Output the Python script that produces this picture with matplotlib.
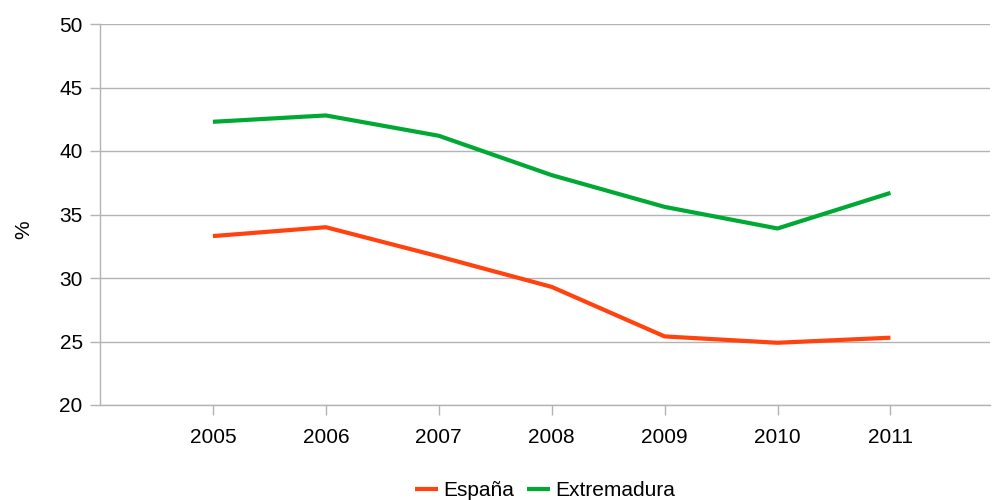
import matplotlib
matplotlib.use("Agg")
import matplotlib.pyplot as plt

plt.rcParams["font.family"] = ["Liberation Sans", "DejaVu Sans"]

years = [2005, 2006, 2007, 2008, 2009, 2010, 2011]
espana = [33.3, 34.0, 31.7, 29.3, 25.4, 24.9, 25.3]
extremadura = [42.3, 42.8, 41.2, 38.1, 35.6, 33.9, 36.7]
y_ticks = [20, 25, 30, 35, 40, 45, 50]

fig = plt.figure(figsize=(9.92, 5), dpi=100)
ax = fig.add_axes([0.1008, 0.19, 0.897, 0.762])

ax.plot(years, espana, color="#ff420e", linewidth=3, label="España", solid_capstyle="butt")
ax.plot(years, extremadura, color="#00a933", linewidth=3, label="Extremadura", solid_capstyle="butt")

ax.set_xlim(2004, 2011.88)
ax.set_ylim(20, 50)
ax.set_yticks(y_ticks)
ax.set_xticks(years)
ax.set_xticklabels([str(y) for y in years])

ax.grid(axis="y", color="#b3b3b3", linewidth=1)
ax.set_axisbelow(True)
for side in ["top", "right"]:
    ax.spines[side].set_visible(False)
for side in ["left", "bottom"]:
    ax.spines[side].set_color("#b3b3b3")
    ax.spines[side].set_linewidth(1)

ax.tick_params(axis="both", colors="#b3b3b3", labelcolor="black", labelsize=15, length=7.5, width=1)
ax.tick_params(axis="x", pad=9)
ax.tick_params(axis="y", pad=5)
ax.set_ylabel("%", fontsize=15)
ax.yaxis.set_label_coords(-0.075, 0.46)

ax.legend(loc="center", bbox_to_anchor=(0.5, -0.225), ncol=2, frameon=False,
          fontsize=15, handlelength=1.1, handletextpad=0.25, columnspacing=0.65)

fig.savefig("out.png", dpi=100)
